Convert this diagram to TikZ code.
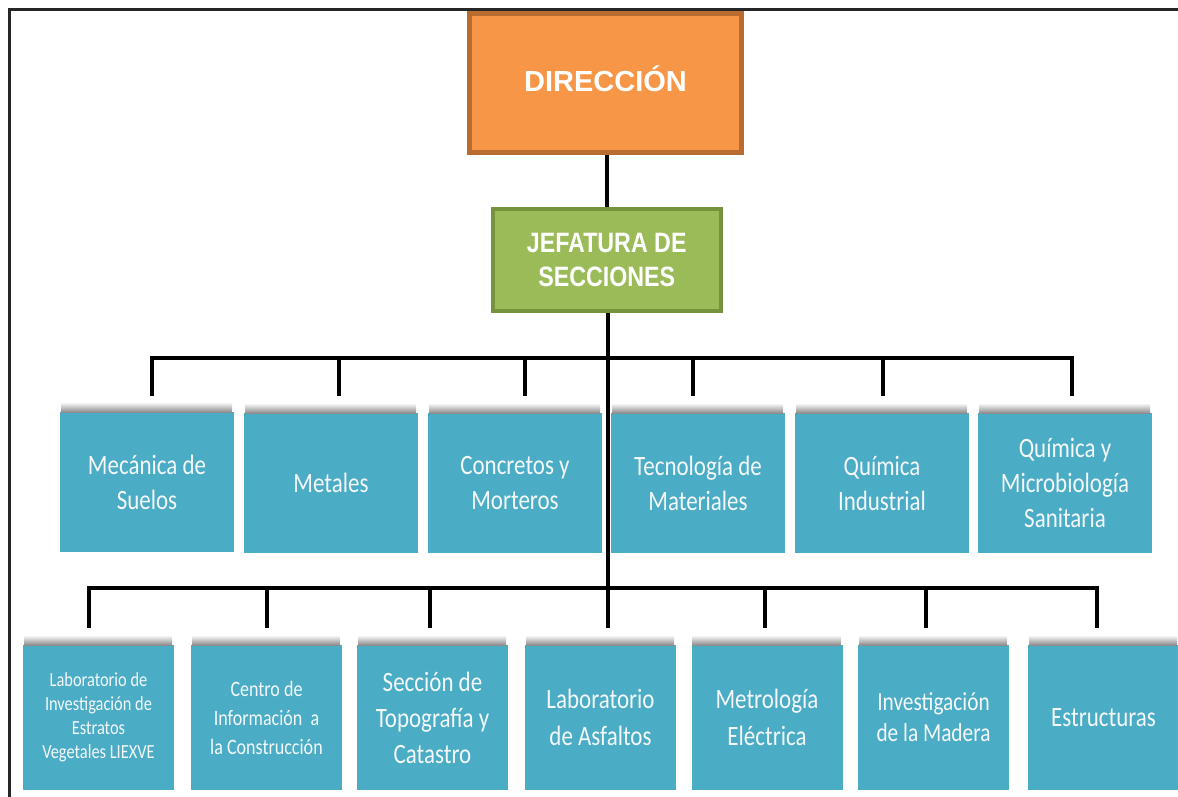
\documentclass[tikz,border=0pt]{standalone}
\usepackage{fontspec}
\newfontfamily\boxfnt[FakeStretch=0.82]{Carlito}
\newfontfamily\headfnt{Liberation Sans}
\newfontfamily\headfntc[FakeStretch=0.83]{Liberation Sans}
\definecolor{dirfill}{HTML}{F79646}
\definecolor{dirline}{HTML}{B96C30}
\definecolor{jefill}{HTML}{9BBB59}
\definecolor{jeline}{HTML}{76923C}
\definecolor{secfill}{HTML}{4BACC6}
\definecolor{sectext}{HTML}{F4F8FA}
\tikzset{
  dirbox/.style={draw=dirline, line width=5pt, fill=dirfill, text=white, font=\headfnt\bfseries\fontsize{29}{34}\selectfont, text height=21pt, text depth=3pt},
  jefbox/.style={draw=jeline, line width=4pt, fill=jefill, text=white, align=center, font=\headfntc\bfseries\fontsize{28}{34}\selectfont},
  secbox/.style={fill=secfill, text=sectext, align=center, outer sep=0pt, inner sep=0pt, font=\boxfnt\fontsize{28}{35}\selectfont},
  rowone/.style={secbox, minimum width=174pt, minimum height=140pt},
  rowtwo/.style={secbox, minimum width=151pt, minimum height=145pt},
  conn/.style={line width=4pt, black},
  frame/.style={line width=2.2pt, black!85}
}
\begin{document}
\begin{tikzpicture}[x=1pt,y=-1pt]
\useasboundingbox (0,0) rectangle (1178,797);
\clip (0,0) rectangle (1178,797);
\draw[frame] (9.5,9.5) rectangle (1200,820);

% top levels
\node[dirbox, minimum width=272pt, minimum height=139pt] (d) at (605.5,83) {DIRECCIÓN};
\node[jefbox, minimum width=228pt, minimum height=101.7pt] (j) at (606.7,260) {JEFATURA DE\\SECCIONES};

% first row of sections
\node[rowone] (m1) at (147,482) {Mecánica de\\Suelos};
\node[rowone] (m2) at (331,483) {Metales};
\node[rowone] (m3) at (515,483) {Concretos y\\Morteros};
\node[rowone] (m4) at (698,483) {Tecnología de\\Materiales};
\node[rowone] (m5) at (882,483) {Química\\Industrial};
\node[rowone] (m6) at (1065,483) {Química y\\Microbiología\\Sanitaria};

% second row of sections
\node[rowtwo, font=\boxfnt\fontsize{20}{24}\selectfont] (r1) at (98.5,717.5) {Laboratorio de\\Investigación de\\Estratos\\Vegetales LIEXVE};
\node[rowtwo, font=\boxfnt\fontsize{22}{29}\selectfont] (r2) at (266.5,717.5) {Centro de\\Información\ \ a\\la Construcción};
\node[rowtwo, font=\boxfnt\fontsize{28}{36}\selectfont] (r3) at (432.5,717.5) {Sección de\\Topografía y\\Catastro};
\node[rowtwo, font=\boxfnt\fontsize{28}{37}\selectfont] (r4) at (600.5,717.5) {Laboratorio\\de Asfaltos};
\node[rowtwo, font=\boxfnt\fontsize{28}{37}\selectfont] (r5) at (767,717.5) {Metrología\\Eléctrica};
\node[rowtwo, font=\boxfnt\fontsize{26}{31}\selectfont] (r6) at (933.5,717.5) {Investigación\\de la Madera};
\node[rowtwo] (r7) at (1103.5,717.5) {Estructuras};

% shadows above the section boxes
\foreach \n in {m1,m2,m3,m4,m5,m6,r1,r2,r3,r4,r5,r6,r7}{
  \shade[top color=white, bottom color=black!45] ([xshift=1pt]\n.north west) rectangle ([xshift=-2pt,yshift=10pt]\n.north east);
}

% connector anchor points
\coordinate (ta) at (607.5,358);
\coordinate (tb) at (607.5,588);
\coordinate (te) at (607.5,628);
\coordinate (a1) at (151.5,396);
\coordinate (a2) at (338.5,396);
\coordinate (a3) at (525,396);
\coordinate (a4) at (693,396);
\coordinate (a5) at (883,396);
\coordinate (a6) at (1072,396);
\coordinate (b1) at (88.5,628);
\coordinate (b2) at (267,628);
\coordinate (b3) at (430,628);
\coordinate (b5) at (765,628);
\coordinate (b6) at (926,628);
\coordinate (b7) at (1097,628);

% connectors
\draw[conn] (j.north |- d.south) -- (j.north);
\draw[conn] (j.south -| te) -- (te);
\draw[conn] (a1) |- (ta) -| (a6);
\foreach \p in {a2,a3,a4,a5}{ \draw[conn] (\p |- ta) -- (\p); }
\draw[conn] (b1) |- (tb) -| (b7);
\foreach \p in {b2,b3,b5,b6}{ \draw[conn] (\p |- tb) -- (\p); }
\end{tikzpicture}
\end{document}
